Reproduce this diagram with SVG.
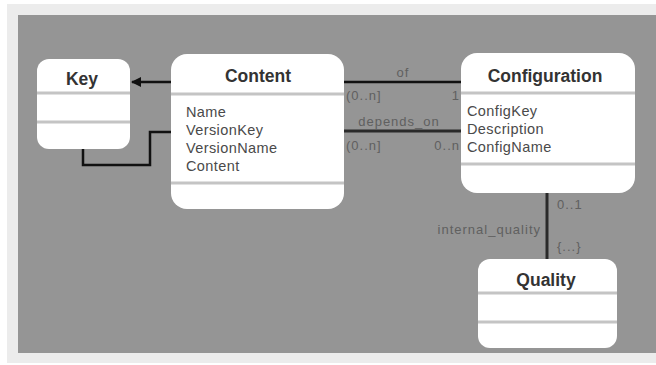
<svg xmlns="http://www.w3.org/2000/svg" width="656" height="365" viewBox="0 0 656 365">
  <style>
    .box { fill: #ffffff; }
    .div { stroke: #c4c4c4; stroke-width: 3; }
    .title { font-family: "Liberation Sans", Arial, sans-serif; font-size: 17.5px; font-weight: bold; fill: #333333; text-anchor: middle; }
    .attr { font-family: "Liberation Sans", Arial, sans-serif; font-size: 14.5px; letter-spacing: 0.4px; fill: #4a4a4a; }
    .lbl { font-family: "Liberation Sans", Arial, sans-serif; font-size: 13px; letter-spacing: 1px; fill: #606060; }
    .edge { fill: none; stroke: #111111; stroke-width: 2.5; }
    .heavy { fill: none; stroke: #2a2a2a; stroke-width: 3; }
  </style>
  <defs>
    <marker id="arrow" viewBox="0 0 10 10" refX="9" refY="5" markerWidth="4" markerHeight="4" orient="auto">
      <path d="M0,0 L10,5 L0,10 z" fill="#111111"/>
    </marker>
  </defs>

  <!-- page and canvas -->
  <rect x="0" y="0" width="656" height="365" fill="#ffffff"/>
  <rect x="7" y="4" width="649" height="359" fill="#ececec"/>
  <rect x="18" y="15" width="638" height="338" fill="#959595"/>

  <!-- connectors -->
  <g id="connectors">
    <line class="edge" x1="171" y1="82" x2="132" y2="82" marker-end="url(#arrow)"/>
    <polyline class="edge" points="83,149 83,165 150,165 150,132 171,132"/>
    <line class="edge" x1="344" y1="82" x2="461" y2="82"/>
    <text class="lbl" x="403" y="77" text-anchor="middle">of</text>
    <text class="lbl" x="346" y="100">(0..n]</text>
    <text class="lbl" x="460" y="100" text-anchor="end">1</text>
    <line class="heavy" x1="344" y1="131" x2="461" y2="131"/>
    <text class="lbl" x="399" y="126" text-anchor="middle">depends_on</text>
    <text class="lbl" x="346" y="150">(0..n]</text>
    <text class="lbl" x="460" y="150" text-anchor="end">0..n</text>
    <line class="heavy" x1="547" y1="193" x2="547" y2="259"/>
    <text class="lbl" x="557" y="209">0..1</text>
    <text class="lbl" x="541" y="234" text-anchor="end">internal_quality</text>
    <text class="lbl" x="557" y="251">{...}</text>
  </g>

  <g id="key">
    <rect class="box" x="37" y="59" width="93" height="90" rx="12"/>
    <line class="div" x1="37" y1="93" x2="130" y2="93"/>
    <line class="div" x1="37" y1="122" x2="130" y2="122"/>
    <text class="title" x="82" y="85">Key</text>
  </g>

  <g id="content">
    <rect class="box" x="171" y="54" width="173" height="155" rx="16"/>
    <line class="div" x1="171" y1="94" x2="344" y2="94"/>
    <line class="div" x1="171" y1="183" x2="344" y2="183"/>
    <text class="title" x="258" y="82">Content</text>
    <text class="attr" x="186" y="117">Name</text>
    <text class="attr" x="186" y="135">VersionKey</text>
    <text class="attr" x="186" y="153">VersionName</text>
    <text class="attr" x="186" y="171">Content</text>
  </g>

  <g id="configuration">
    <rect class="box" x="461" y="53" width="174" height="140" rx="16"/>
    <line class="div" x1="461" y1="93" x2="635" y2="93"/>
    <line class="div" x1="461" y1="164" x2="635" y2="164"/>
    <text class="title" x="545" y="82">Configuration</text>
    <text class="attr" x="467" y="116">ConfigKey</text>
    <text class="attr" x="467" y="134">Description</text>
    <text class="attr" x="467" y="152">ConfigName</text>
  </g>

  <g id="quality">
    <rect class="box" x="478" y="259" width="139" height="89" rx="12"/>
    <line class="div" x1="478" y1="293" x2="617" y2="293"/>
    <line class="div" x1="478" y1="322" x2="617" y2="322"/>
    <text class="title" x="546" y="286">Quality</text>
  </g>
</svg>
